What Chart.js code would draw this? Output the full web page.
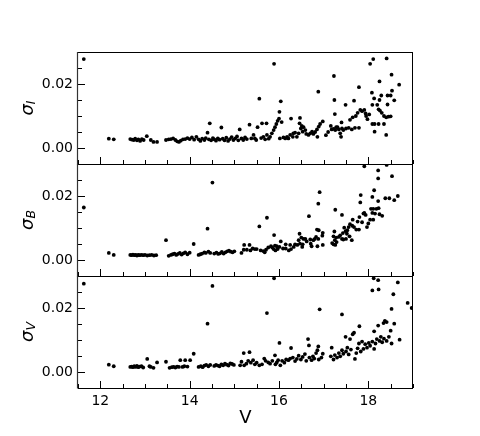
<!DOCTYPE html>
<html>
<head>
<meta charset="utf-8">
<script src="https://cdn.jsdelivr.net/npm/chart.js@4/dist/chart.umd.min.js"></script>
<style>
html,body{margin:0;padding:0;background:#fff;}
#wrap{width:480px;height:436px;position:relative;}
</style>
</head>
<body>
<div id="wrap"><canvas id="c" width="480" height="436"></canvas></div>
<script>
// ---- tick values ----
const xMajorTicks = [12, 14, 16, 18];
const xMinorTicks = [11.5, 12.5, 13, 13.5, 14.5, 15, 15.5, 16.5, 17, 17.5, 18.5, 19];
const yMajorTicks = [0, 0.02];
const yMinorTicks = [0.005, 0.01, 0.015, 0.025];
const panelLabels = ['I', 'B', 'V'];

// ---- data: [V, sigma] ----
const sigmaI = [
[11.63,0.0278],[12.19,0.0029],[12.30,0.0027],[12.67,0.0028],[12.71,0.0026],[12.75,0.0025],[12.78,0.0029],
[12.82,0.0024],[12.85,0.0027],[12.89,0.0022],[12.93,0.0028],[12.97,0.0025],[13.04,0.0037],[13.13,0.0025],
[13.19,0.0019],[13.27,0.0019],[13.47,0.0025],[13.53,0.0027],[13.58,0.0028],[13.63,0.0030],[13.68,0.0025],
[13.72,0.0021],[13.76,0.0019],[13.80,0.0023],[13.85,0.0027],[13.90,0.0028],[13.95,0.0031],[14.00,0.0028],
[14.05,0.0033],[14.10,0.0026],[14.15,0.0035],[14.20,0.0027],[14.24,0.0022],[14.28,0.0029],[14.33,0.0025],
[14.36,0.0031],[14.40,0.0048],[14.43,0.0027],[14.45,0.0077],[14.48,0.0024],[14.52,0.0031],[14.55,0.0027],
[14.59,0.0023],[14.63,0.0030],[14.67,0.0026],[14.71,0.0064],[14.74,0.0029],[14.78,0.0024],[14.82,0.0032],
[14.86,0.0022],[14.90,0.0028],[14.94,0.0034],[14.98,0.0025],[15.02,0.0030],[15.06,0.0036],[15.09,0.0024],
[15.12,0.0058],[15.16,0.0030],[15.20,0.0025],[15.24,0.0033],[15.28,0.0028],[15.34,0.0073],[15.38,0.0030],
[15.43,0.0041],[15.46,0.0030],[15.49,0.0025],[15.52,0.0065],[15.56,0.0154],[15.60,0.0031],[15.62,0.0077],
[15.65,0.0035],[15.69,0.0027],[15.72,0.0077],[15.73,0.0041],[15.77,0.0029],[15.80,0.0035],[15.84,0.0046],
[15.88,0.0056],[15.89,0.0263],[15.91,0.0065],[15.94,0.0075],[15.97,0.0085],[16.00,0.0092],[16.01,0.0113],
[16.04,0.0146],[16.06,0.0081],[16.02,0.0030],[16.10,0.0033],[16.14,0.0030],[16.18,0.0035],[16.21,0.0030],
[16.25,0.0041],[16.27,0.0092],[16.31,0.0035],[16.32,0.0046],[16.36,0.0048],[16.40,0.0035],[16.44,0.0046],
[16.46,0.0077],[16.47,0.0094],[16.49,0.0061],[16.51,0.0069],[16.53,0.0051],[16.55,0.0065],[16.59,0.0056],
[16.61,0.0044],[16.66,0.0041],[16.70,0.0046],[16.74,0.0051],[16.77,0.0044],[16.81,0.0050],[16.85,0.0058],
[16.86,0.0035],[16.88,0.0176],[16.89,0.0067],[16.92,0.0075],[16.98,0.0083],[17.05,0.0040],[17.10,0.0050],
[17.16,0.0069],[17.18,0.0058],[17.22,0.0060],[17.23,0.0225],[17.24,0.0150],[17.25,0.0106],[17.26,0.0056],
[17.28,0.0065],[17.31,0.0065],[17.34,0.0058],[17.37,0.0046],[17.39,0.0035],[17.40,0.0080],[17.41,0.0061],
[17.44,0.0056],[17.49,0.0135],[17.50,0.0061],[17.56,0.0063],[17.59,0.0088],[17.63,0.0058],[17.65,0.0096],
[17.68,0.0148],[17.70,0.0063],[17.72,0.0100],[17.76,0.0110],[17.79,0.0063],[17.79,0.0190],[17.82,0.0119],
[17.86,0.0115],[17.91,0.0119],[17.94,0.0108],[17.95,0.0100],[18.04,0.0263],[18.11,0.0278],[18.41,0.0280],
[18.52,0.0229],[18.25,0.0208],[18.69,0.0198],[18.08,0.0173],[18.13,0.0155],[18.29,0.0164],[18.25,0.0150],
[18.43,0.0164],[18.53,0.0179],[18.58,0.0149],[18.50,0.0164],[18.20,0.0135],[18.09,0.0135],[18.43,0.0136],
[18.23,0.0121],[18.26,0.0117],[18.30,0.0110],[18.35,0.0100],[18.40,0.0096],[18.45,0.0098],[18.50,0.0099],
[18.09,0.0075],[18.14,0.0075],[18.23,0.0075],[18.35,0.0075],[18.14,0.0051],[18.40,0.0041],[18.02,0.0105],
[17.98,0.0090]
];

const sigmaB = [
[11.63,0.0164],[12.19,0.0022],[12.30,0.0016],[12.67,0.0016],[12.70,0.0015],[12.73,0.0017],[12.76,0.0015],
[12.79,0.0016],[12.82,0.0014],[12.85,0.0016],[12.88,0.0015],[12.92,0.0016],[12.96,0.0015],[13.00,0.0016],
[13.05,0.0014],[13.10,0.0015],[13.15,0.0016],[13.20,0.0014],[13.25,0.0015],[13.47,0.0062],[13.53,0.0013],
[13.58,0.0016],[13.62,0.0018],[13.66,0.0020],[13.70,0.0016],[13.74,0.0019],[13.78,0.0022],[13.82,0.0017],
[13.86,0.0021],[13.90,0.0024],[13.95,0.0018],[14.00,0.0023],[14.09,0.0050],[14.20,0.0016],[14.24,0.0018],
[14.28,0.0020],[14.33,0.0024],[14.36,0.0022],[14.40,0.0098],[14.42,0.0026],[14.46,0.0022],[14.51,0.0242],
[14.55,0.0020],[14.60,0.0023],[14.64,0.0019],[14.68,0.0021],[14.72,0.0025],[14.76,0.0020],[14.80,0.0024],
[14.84,0.0027],[14.88,0.0029],[14.92,0.0026],[14.96,0.0024],[15.00,0.0027],
[15.16,0.0022],[15.21,0.0032],[15.22,0.0047],[15.28,0.0032],[15.34,0.0047],[15.36,0.0030],[15.41,0.0036],
[15.46,0.0034],[15.50,0.0034],[15.56,0.0105],[15.59,0.0030],[15.65,0.0028],[15.68,0.0024],[15.71,0.0032],
[15.73,0.0132],[15.76,0.0039],[15.82,0.0043],[15.85,0.0039],[15.88,0.0034],[15.89,0.0078],[15.91,0.0045],
[15.92,0.0030],[15.95,0.0043],[15.97,0.0034],[16.01,0.0041],[16.04,0.0058],[16.09,0.0036],[16.15,0.0049],
[16.15,0.0036],[16.22,0.0030],[16.25,0.0047],[16.27,0.0034],[16.33,0.0041],[16.36,0.0049],[16.41,0.0047],
[16.44,0.0062],[16.46,0.0082],[16.47,0.0051],[16.50,0.0070],[16.52,0.0041],[16.53,0.0049],[16.55,0.0066],
[16.59,0.0066],[16.62,0.0058],[16.67,0.0137],[16.70,0.0064],[16.71,0.0051],[16.73,0.0043],[16.77,0.0062],
[16.80,0.0066],[16.83,0.0072],[16.85,0.0095],[16.86,0.0043],[16.88,0.0176],[16.88,0.0066],[16.89,0.0093],
[16.91,0.0212],[16.97,0.0076],[16.98,0.0085],[16.98,0.0047],
[17.19,0.0053],[17.22,0.0074],[17.22,0.0049],[17.24,0.0089],[17.25,0.0062],[17.26,0.0157],[17.26,0.0047],
[17.28,0.0070],[17.29,0.0056],[17.34,0.0072],[17.37,0.0077],[17.41,0.0066],[17.41,0.0141],[17.43,0.0084],
[17.44,0.0064],[17.46,0.0101],[17.49,0.0090],[17.50,0.0066],[17.52,0.0082],[17.53,0.0093],[17.56,0.0103],
[17.58,0.0074],[17.59,0.0112],[17.63,0.0062],[17.64,0.0107],[17.65,0.0126],[17.68,0.0103],[17.73,0.0095],
[17.76,0.0120],[17.79,0.0095],[17.80,0.0134],[17.82,0.0180],[17.83,0.0203],[17.86,0.0118],[17.89,0.0145],
[17.91,0.0147],[17.91,0.0293],[17.94,0.0141],[17.97,0.0103],[18.00,0.0114],[18.04,0.0126],[18.06,0.0160],
[18.09,0.0197],[18.09,0.0147],[18.11,0.0160],[18.11,0.0126],[18.13,0.0218],[18.15,0.0145],[18.18,0.0160],
[18.22,0.0184],[18.22,0.0280],[18.22,0.0255],[18.23,0.0162],[18.25,0.0143],[18.31,0.0138],[18.38,0.0193],
[18.41,0.0297],[18.47,0.0193],[18.53,0.0262],[18.58,0.0187],[18.66,0.0200]
];

const sigmaV = [
[11.63,0.0276],[12.19,0.0023],[12.30,0.0018],[12.67,0.0016],[12.70,0.0017],[12.73,0.0015],[12.76,0.0018],
[12.79,0.0016],[12.82,0.0019],[12.85,0.0015],[12.88,0.0017],[12.92,0.0018],[12.96,0.0014],[13.05,0.0041],
[13.10,0.0018],[13.13,0.0016],[13.19,0.0013],[13.27,0.0030],[13.47,0.0032],[13.55,0.0013],[13.60,0.0015],
[13.64,0.0016],[13.68,0.0014],[13.72,0.0017],[13.76,0.0016],[13.79,0.0037],[13.84,0.0016],[13.88,0.0018],
[13.90,0.0037],[13.95,0.0017],[14.01,0.0037],[14.09,0.0057],[14.20,0.0016],[14.25,0.0018],[14.29,0.0015],
[14.33,0.0020],[14.37,0.0022],[14.40,0.0151],[14.42,0.0018],[14.46,0.0022],[14.51,0.0269],[14.55,0.0019],
[14.59,0.0022],[14.63,0.0020],[14.67,0.0018],[14.71,0.0024],[14.75,0.0021],[14.79,0.0026],[14.83,0.0023],
[14.87,0.0020],[14.91,0.0027],[14.95,0.0025],[14.99,0.0022],
[15.13,0.0021],[15.16,0.0032],[15.21,0.0059],[15.22,0.0021],[15.27,0.0026],[15.31,0.0035],[15.34,0.0062],
[15.37,0.0029],[15.42,0.0037],[15.46,0.0024],[15.50,0.0029],[15.56,0.0021],[15.62,0.0024],[15.67,0.0042],
[15.70,0.0035],[15.73,0.0184],[15.76,0.0030],[15.80,0.0026],[15.85,0.0035],[15.89,0.0293],[15.91,0.0052],
[15.92,0.0024],[15.95,0.0030],[15.98,0.0037],[16.01,0.0091],[16.03,0.0021],[16.07,0.0035],[16.12,0.0029],
[16.16,0.0039],[16.21,0.0037],[16.27,0.0075],[16.25,0.0042],[16.31,0.0045],[16.36,0.0034],[16.40,0.0041],
[16.44,0.0051],[16.49,0.0039],[16.53,0.0047],[16.58,0.0056],[16.61,0.0035],[16.65,0.0103],[16.67,0.0083],
[16.68,0.0045],[16.73,0.0037],[16.76,0.0049],[16.79,0.0042],[16.83,0.0059],[16.86,0.0068],[16.88,0.0080],
[16.89,0.0039],[16.91,0.0196],[16.95,0.0045],[16.98,0.0057],
[17.16,0.0049],[17.18,0.0076],[17.22,0.0039],[17.25,0.0053],[17.30,0.0045],[17.34,0.0059],[17.37,0.0049],
[17.41,0.0180],[17.41,0.0068],[17.44,0.0057],[17.49,0.0110],[17.50,0.0064],[17.53,0.0076],[17.56,0.0055],
[17.59,0.0103],[17.61,0.0070],[17.65,0.0118],[17.68,0.0123],[17.70,0.0041],[17.73,0.0059],[17.76,0.0074],
[17.79,0.0089],[17.80,0.0143],[17.83,0.0064],[17.86,0.0095],[17.89,0.0072],[17.93,0.0087],[17.97,0.0076],
[18.01,0.0091],[18.04,0.0082],[18.09,0.0255],[18.09,0.0095],[18.12,0.0293],[18.13,0.0127],[18.13,0.0072],
[18.16,0.0089],[18.19,0.0103],[18.22,0.0287],[18.22,0.0145],[18.23,0.0258],[18.25,0.0097],[18.28,0.0110],
[18.31,0.0093],[18.34,0.0153],[18.35,0.0104],[18.37,0.0160],[18.41,0.0156],[18.41,0.0097],[18.46,0.0110],
[18.50,0.0129],[18.52,0.0197],[18.52,0.0089],[18.56,0.0243],[18.58,0.0151],[18.66,0.0280],[18.70,0.0101],
[18.88,0.0216],[18.97,0.0200]
];

const toPts = arr => arr.map(p => ({x: p[0], y: p[1]}));

const yAxisIds = ['yI', 'yB', 'yV'];

function yScale(weight) {
  return {
    type: 'linear',
    position: 'left',
    stack: 'panels',
    stackWeight: 1,
    weight: weight,
    min: -0.005,
    max: 0.03,
    grid: {display: false, drawTicks: false},
    border: {display: false},
    afterFit: s => { s.width = 78; },
    afterBuildTicks: s => { s.ticks = yMajorTicks.map(v => ({value: v})); },
    ticks: {
      padding: 5,
      color: '#000',
      font: {family: '"DejaVu Sans"', size: 14},
      callback: v => Number(v).toFixed(2)
    }
  };
}

const framePlugin = {
  id: 'frames',
  afterDatasetsDraw(chart) {
    const ctx = chart.ctx;
    const xs = chart.scales.x;
    const L = xs.left, R = xs.right;
    ctx.save();
    yAxisIds.forEach((id, i) => {
      const ys = chart.scales[id];
      const T = ys.top, B = ys.bottom;
      // ticks
      ctx.strokeStyle = '#000';
      ctx.lineWidth = 1;
      ctx.beginPath();
      xMajorTicks.forEach(v => {
        const px = Math.round(xs.getPixelForValue(v)) + 0.5;
        ctx.moveTo(px, B); ctx.lineTo(px, B - 7);
      });
      xMinorTicks.forEach(v => {
        const px = Math.round(xs.getPixelForValue(v)) + 0.5;
        ctx.moveTo(px, B); ctx.lineTo(px, B - 4);
      });
      yMajorTicks.forEach(v => {
        const py = Math.round(ys.getPixelForValue(v)) + 0.5;
        ctx.moveTo(L, py); ctx.lineTo(L + 7, py);
      });
      yMinorTicks.forEach(v => {
        const py = Math.round(ys.getPixelForValue(v)) + 0.5;
        ctx.moveTo(L, py); ctx.lineTo(L + 4, py);
      });
      ctx.stroke();
      // frame
      ctx.beginPath();
      ctx.moveTo(L, Math.round(T) + 0.5); ctx.lineTo(R, Math.round(T) + 0.5);
      ctx.moveTo(L, Math.round(B) + 0.5); ctx.lineTo(R, Math.round(B) + 0.5);
      ctx.moveTo(Math.round(R) - 0.5, T); ctx.lineTo(Math.round(R) - 0.5, B);
      ctx.stroke();
      ctx.beginPath();
      ctx.strokeStyle = '#333';
      ctx.lineWidth = 1.2;
      ctx.moveTo(Math.round(L) - 0.5, T); ctx.lineTo(Math.round(L) - 0.5, B + 0.5);
      ctx.stroke();
      // label sigma_X
      const cy = (T + B) / 2;
      ctx.save();
      ctx.translate(33, cy);
      ctx.rotate(-Math.PI / 2);
      ctx.fillStyle = '#000';
      ctx.textBaseline = 'alphabetic';
      ctx.textAlign = 'left';
      const f1 = 'italic 18px "DejaVu Sans"';
      const f2 = 'italic 12.5px "DejaVu Sans"';
      ctx.font = f1;
      const w1 = ctx.measureText('σ').width;
      ctx.font = f2;
      const w2 = ctx.measureText(panelLabels[i]).width;
      const start = -(w1 + w2) / 2;
      ctx.font = f1;
      ctx.fillText('σ', start, 0);
      ctx.font = f2;
      ctx.fillText(panelLabels[i], start + w1, 2);
      ctx.restore();
    });
    ctx.restore();
  }
};

new Chart(document.getElementById('c'), {
  type: 'scatter',
  data: {
    datasets: [
      {data: toPts(sigmaI), yAxisID: 'yI'},
      {data: toPts(sigmaB), yAxisID: 'yB'},
      {data: toPts(sigmaV), yAxisID: 'yV'}
    ].map(d => Object.assign(d, {
      backgroundColor: '#000', borderWidth: 0, pointRadius: 1.9, pointHoverRadius: 1.9
    }))
  },
  options: {
    responsive: false,
    animation: false,
    events: [],
    layout: {padding: {top: 52, right: 67, left: 0, bottom: 0}},
    plugins: {legend: {display: false}, tooltip: {enabled: false}},
    scales: {
      x: {
        type: 'linear',
        position: 'bottom',
        min: 11.5,
        max: 19,
        grid: {display: false, drawTicks: false},
        border: {display: false},
        afterFit: s => { s.height = 48; },
        afterBuildTicks: s => { s.ticks = xMajorTicks.map(v => ({value: v})); },
        ticks: {
          padding: 5,
          color: '#000',
          maxRotation: 0,
          font: {family: '"DejaVu Sans"', size: 14},
          callback: v => String(v)
        },
        title: {
          display: true,
          text: 'V',
          color: '#000',
          font: {family: '"DejaVu Sans"', size: 18},
          padding: {top: 0, bottom: 7}
        }
      },
      yI: yScale(3),
      yB: yScale(2),
      yV: yScale(1)
    }
  },
  plugins: [framePlugin]
});
</script>
</body>
</html>
